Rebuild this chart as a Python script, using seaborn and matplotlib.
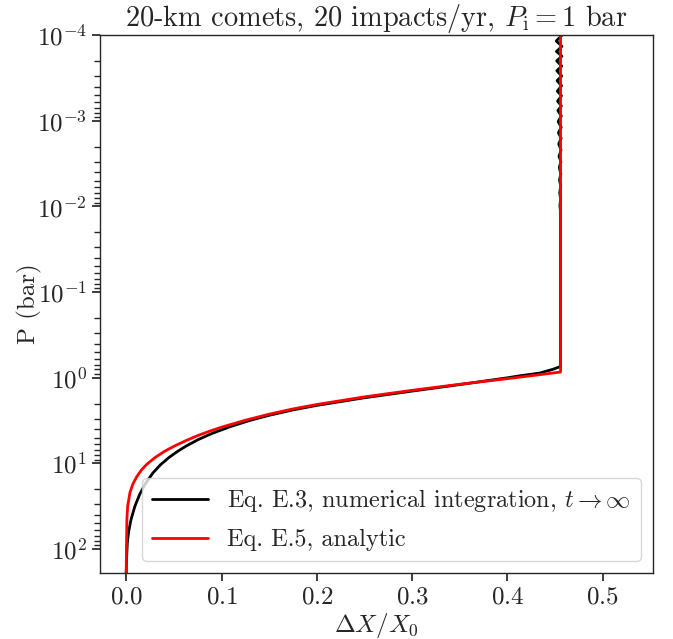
import numpy as np
import pandas as pd
import seaborn as sns
import matplotlib
matplotlib.use("Agg")
import matplotlib.pyplot as plt

# Eq. E.3, numerical integration (x = dX/X0, p = pressure in bar)
num_x = [0.0, 0.0004, 0.0012, 0.0025, 0.005, 0.009, 0.014, 0.02, 0.028, 0.036,
         0.045, 0.054, 0.0625, 0.075, 0.09, 0.11, 0.13, 0.15, 0.175, 0.20,
         0.25, 0.30, 0.35, 0.40, 0.413, 0.434, 0.448, 0.4555, 0.4555,
         0.4550, 0.4558, 0.4548, 0.4559, 0.4546, 0.4560, 0.4544, 0.4561,
         0.4541, 0.4562, 0.4538, 0.4563, 0.4535, 0.4564, 0.4532, 0.4565,
         0.4529, 0.4566, 0.4526, 0.4567, 0.4523, 0.4568, 0.4520, 0.4569,
         0.4518, 0.4570, 0.4516, 0.4571, 0.4514, 0.4572, 0.4512, 0.4573]
num_p = [190, 126, 84, 63, 45.4, 31.8, 23.1, 17.3, 12.9, 10.35,
         8.49, 7.21, 6.30, 5.30, 4.46, 3.69, 3.14, 2.74, 2.37, 2.10,
         1.71, 1.43, 1.20, 1.0, 0.948, 0.88, 0.794, 0.74, 1.1e-2,
         9.8e-3, 8.2e-3, 6.9e-3, 5.8e-3, 4.9e-3, 4.2e-3, 3.5e-3, 3.0e-3,
         2.6e-3, 2.2e-3, 1.86e-3, 1.6e-3, 1.38e-3, 1.19e-3, 1.02e-3, 8.8e-4,
         7.6e-4, 6.7e-4, 5.9e-4, 5.1e-4, 4.5e-4, 3.9e-4, 3.4e-4, 3.0e-4,
         2.6e-4, 2.3e-4, 2.0e-4, 1.76e-4, 1.55e-4, 1.35e-4, 1.17e-4, 1.0e-4]

# Eq. E.5, analytic
ana_x = [0.0, 0.0003, 0.0007, 0.0015, 0.004, 0.007, 0.011, 0.016, 0.0217, 0.03,
         0.04, 0.05, 0.0625, 0.075, 0.0875, 0.10, 0.125, 0.15, 0.175, 0.20,
         0.25, 0.30, 0.35, 0.40, 0.43, 0.4557, 0.4557]
ana_p = [190, 89, 44.7, 31.6, 21.7, 17.4, 14.3, 11.9, 10.2, 8.57,
         7.24, 6.31, 5.42, 4.73, 4.20, 3.77, 3.13, 2.66, 2.31, 2.05,
         1.67, 1.40, 1.19, 1.023, 0.931, 0.857, 1.0e-4]

sns.set_theme(style="ticks")
plt.rcParams.update({
    "font.family": "serif",
    "font.serif": ["cmr10"],
    "mathtext.fontset": "cm",
    "axes.formatter.use_mathtext": True,
    "axes.unicode_minus": True,
    "axes.linewidth": 1.0,
    "xtick.labelsize": 18,
    "ytick.labelsize": 18,
    "axes.labelsize": 18,
    "axes.titlesize": 20.4,
    "legend.fontsize": 17.5,
})

df_num = pd.DataFrame({"x": num_x, "p": num_p})
df_ana = pd.DataFrame({"x": ana_x, "p": ana_p})

fig, ax = plt.subplots(figsize=(6.73, 6.39), dpi=100)
fig.subplots_adjust(left=0.1486, right=0.970, top=0.945, bottom=0.1033)

sns.lineplot(data=df_num, x="x", y="p", sort=False, estimator=None, color="black",
             lw=2, ax=ax, label=r"Eq. E.3, numerical integration, $t\rightarrow\infty$")
sns.lineplot(data=df_ana, x="x", y="p", sort=False, estimator=None, color="red",
             lw=2, ax=ax, label="Eq. E.5, analytic")

ax.set_yscale("log")
ax.set_ylim(190, 1e-4)
ax.set_xlim(-0.0275, 0.5525)
ax.set_xticks([0.0, 0.1, 0.2, 0.3, 0.4, 0.5])
ax.set_xlabel(r"$\Delta X/X_0$", labelpad=2)
ax.set_ylabel("P (bar)", labelpad=-4)
ax.set_title(r"20-km comets, 20 impacts/yr, $P_\mathrm{i}=1$ bar", pad=6)
ax.tick_params(direction="out")
ax.legend(loc="lower right", handlelength=2.3, labelspacing=0.6)

fig.savefig("out.png", dpi=100)
